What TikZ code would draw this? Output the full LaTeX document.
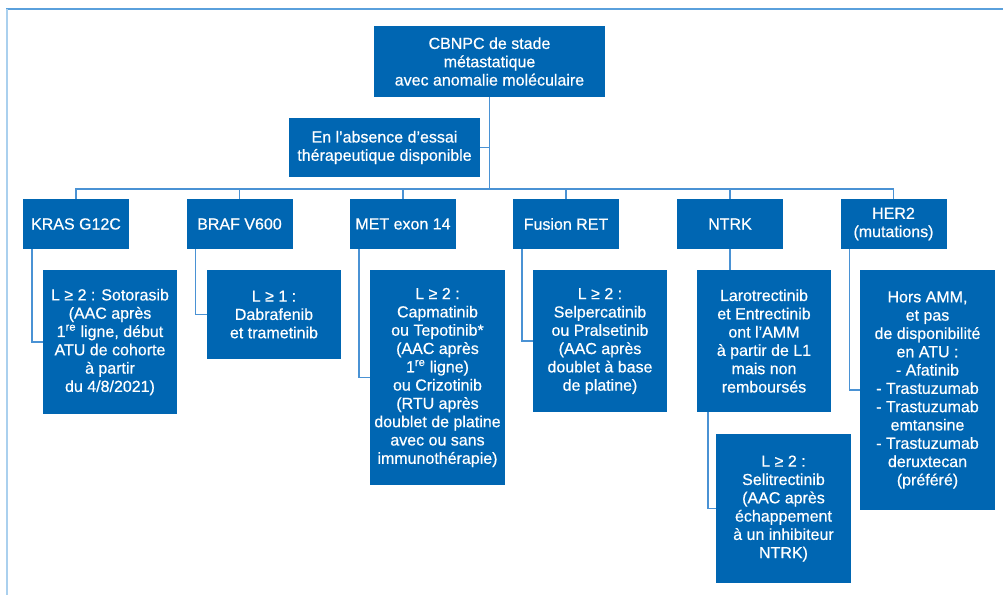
\documentclass[tikz,border=0pt]{standalone}
\usepackage{fontspec}
\setmainfont{Liberation Sans}
\newfontfamily\boxfont[FakeBold=0.5]{Liberation Sans}
\definecolor{BoxClr}{RGB}{0,102,178}
\definecolor{LinkClr}{RGB}{74,146,212}
\definecolor{FrameClr}{RGB}{90,160,220}
\definecolor{FrameClrB}{RGB}{170,208,238}
\newcommand{\supre}{\smash{\textsuperscript{re}}}

\begin{document}
\begin{tikzpicture}[x=1pt,y=-1pt,
  box/.style={fill=BoxClr,text=white,align=center,inner sep=0pt,
    font=\boxfont\fontsize{16}{18.3}\selectfont},
  catbox/.style={box,minimum width=106pt,minimum height=50pt},
  link/.style={draw=LinkClr,line width=1.6pt}]
\useasboundingbox (0,0) rectangle (1003,595);

% frame
\draw[FrameClr,line width=2pt] (6,9) -- (1003,9);
\draw[FrameClrB,line width=2pt] (7,9) -- (7,595);

\node[box,minimum width=231pt,minimum height=71pt] (cbnpc) at (489.5,61.5)
  {CBNPC de stade\\métastatique\\avec anomalie moléculaire};
\node[box,minimum width=191pt,minimum height=59pt] (absence) at (384.5,147.5)
  {En l’absence d’essai\\thérapeutique disponible};
\coordinate (bus) at (489.5,189);

\node[catbox] (kras) at (76,224) {KRAS G12C};
\node[catbox] (braf) at (239.5,224) {BRAF V600};
\node[catbox] (met)  at (403,224) {MET exon 14};
\node[catbox] (ret)  at (566,224) {Fusion RET};
\node[catbox] (ntrk) at (730,224) {NTRK};
\node[catbox] (her2) at (893.5,224) {HER2\\(mutations)};

\node[box,minimum width=134pt,minimum height=144pt] (krasd) at (110,342)
  {L ≥ 2 : Sotorasib\\(AAC après\\1\supre{} ligne, début\\ATU de cohorte\\à partir\\du 4/8/2021)};
\node[box,minimum width=134pt,minimum height=89pt] (brafd) at (274,314.5)
  {L ≥ 1 :\\Dabrafenib\\et trametinib};
\node[box,minimum width=135pt,minimum height=215pt] (metd) at (437.5,377.5)
  {L ≥ 2 :\\Capmatinib\\ou Tepotinib*\\(AAC après\\1\supre{} ligne)\\ou Crizotinib\\(RTU après\\doublet de platine\\avec ou sans\\immunothérapie)};
\node[box,minimum width=134pt,minimum height=142pt] (retd) at (600,341)
  {L ≥ 2 :\\Selpercatinib\\ou Pralsetinib\\(AAC après\\doublet à base\\de platine)};
\node[box,minimum width=134pt,minimum height=142pt] (ntrkd) at (764,341)
  {Larotrectinib\\et Entrectinib\\ont l’AMM\\à partir de L1\\mais non\\remboursés};
\node[box,minimum width=135pt,minimum height=149pt] (selid) at (783.5,508.5)
  {L ≥ 2 :\\Selitrectinib\\(AAC après\\échappement\\à un inhibiteur\\NTRK)};
\node[box,minimum width=135pt,minimum height=240pt] (her2d) at (927.5,390)
  {Hors AMM,\\et pas\\de disponibilité\\en ATU :\\- Afatinib\\- Trastuzumab\\- Trastuzumab\\emtansine\\- Trastuzumab\\deruxtecan\\(préféré)};

% links
\begin{scope}[link]
\draw (cbnpc) -- (bus);
\draw (absence.east) -- (absence.east -| bus);
\foreach \n in {kras,braf,met,ret,ntrk,her2}
  \draw (\n.north) |- (bus);
\draw ([xshift=9pt]kras.south west) |- (krasd.west);
\draw ([xshift=9pt]braf.south west) |- (brafd.west);
\draw ([xshift=9pt]met.south west) |- (metd.west);
\draw ([xshift=9pt]ret.south west) |- (retd.west);
\draw (ntrk.south) -- (ntrk.south |- ntrkd.north);
\draw ([xshift=11pt]ntrkd.south west) |- (selid.west);
\draw ([xshift=9pt]her2.south west) |- (her2d.west);
\end{scope}

\end{tikzpicture}
\end{document}
